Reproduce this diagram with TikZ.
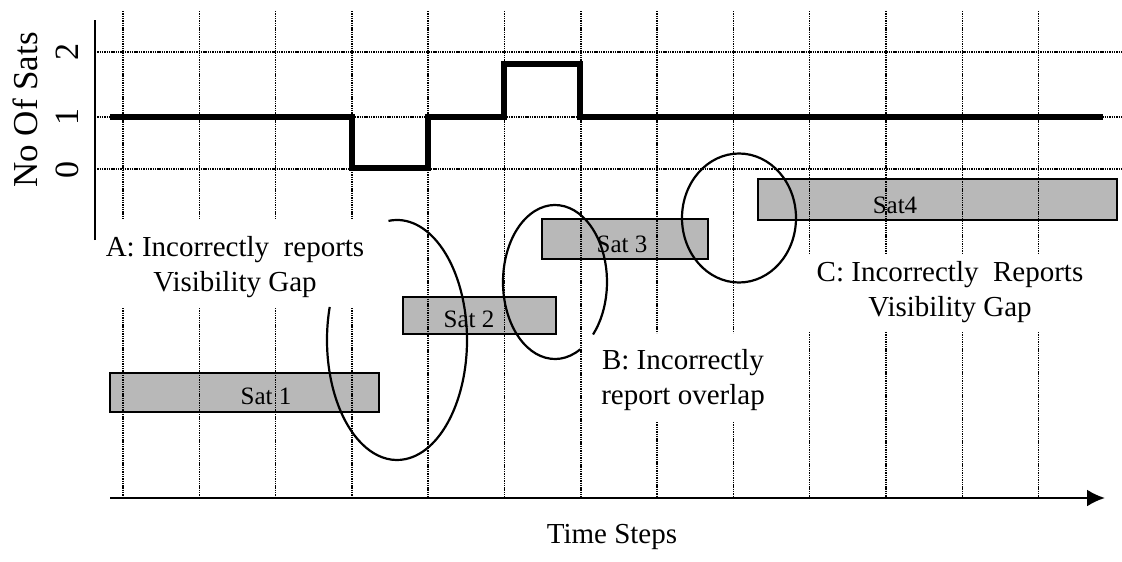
\documentclass[tikz,border=0pt]{standalone}
\usepackage{fontspec}
\setmainfont{Liberation Serif}
\usepackage{tikz}
\usetikzlibrary{calc}
\usetikzlibrary{arrows.meta}
\tikzset{>={Latex[length=18pt,width=17pt]}}
\tikzset{
	gridline/.style={line width=1.5pt,dash pattern=on 1.4pt off 0.9pt},
	satbox/.style={draw,line width=2.2pt,fill=black!28},
	satname/.style={font=\fontsize{25}{30}\selectfont,anchor=base,inner sep=0pt},
	note/.style={font=\fontsize{29}{35}\selectfont,align=center,inner sep=0pt},
	ticklab/.style={font=\fontsize{34}{40}\selectfont,rotate=90,anchor=base,inner sep=0pt},
	ring/.style={line width=2.2pt},
}

\begin{document}
\begin{tikzpicture}[x=1pt,y=-1pt]
			\useasboundingbox (0,0) rectangle (1122,562);
			\coordinate (Y0) at (95,240);
			\coordinate (Y1) at (95,20);
			\coordinate (X0) at (110,498);
			\coordinate (X1) at (1105,498);
			\draw[satbox] (110,373) rectangle (379,412);
			\draw[satbox] (403,297) rectangle (556,334);
			\draw[satbox] (542,219) rectangle (708,259);
			\draw[satbox] (758,179) rectangle (1117,220);
			\foreach \y in {52,117,169}
				\draw[gridline] (95,\y) -- (1122,\y);
			\foreach \x/\a/\b in {123/220/308,199.3/220/308,275.6/220/308,351.9/220/308,428.2/498/498,504.5/498/498,580.8/498/498,657.1/333/422,733.4/333/422,809.7/254/332,886/254/332,962.3/254/332,1038.6/254/332}{
				\draw[gridline] (\x,11) -- (\x,\a);
				\draw[gridline] (\x,\b) -- (\x,498);
			}
			\node[satname] (s1) at (266,404) {Sat 1};
			\node[satname] (s2) at (469,327) {Sat 2};
			\node[satname] (s3) at (622,252) {Sat 3};
			\node[satname] (s4) at (895,213) {Sat4};
			\draw[line width=6pt] (110,117) -- (352,117) -- (352,168) -- (428,168) -- (428,117) -- (504,117) -- (504,64) -- (580,64) -- (580,117) -- (1103,117);
			\draw[ring] (397,340) ++(263:70 and 120) arc[start angle=263,end angle=556,x radius=70,y radius=120];
			\draw[ring] (555,282) ++(61:52 and 77) arc[start angle=61,end angle=403,x radius=52,y radius=77];
			\draw[ring] (739,218) ellipse[x radius=57,y radius=64.5];
			\draw[line width=2.8pt] (Y0) -- (Y1);
			\draw[line width=2.4pt,->] (X0) -- (X1);
			\node[ticklab] (n0) at (78,170) {0};
			\node[ticklab] (n1) at (78,117) {1};
			\node[ticklab] (n2) at (78,52) {2};
			\node[ticklab,font=\fontsize{35}{42}\selectfont] (ylab) at (37,110) {No Of Sats};
			\node[note,anchor=base] (xlab) at (612,543) {Time Steps};
			\node[note] (labA) at (235,267) {A: Incorrectly\ \ reports\\Visibility Gap};
			\node[note] (labB) at (683,380) {B: Incorrectly\\report overlap};
			\node[note] (labC) at (950,292) {C: Incorrectly\ \ Reports\\Visibility Gap};
		\end{tikzpicture}
\end{document}
